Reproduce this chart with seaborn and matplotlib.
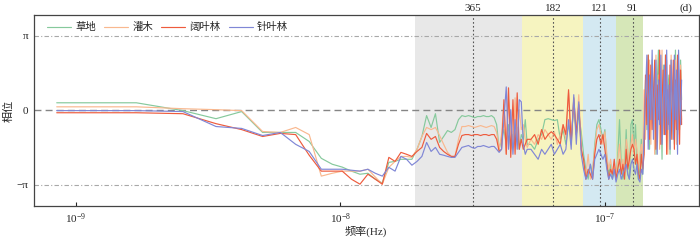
import numpy as np
import pandas as pd
import matplotlib
matplotlib.use("Agg")
import matplotlib.pyplot as plt
from matplotlib.ticker import NullLocator
import seaborn as sns

# harmonic index of the spectrum (full resolution below 60, every 2nd above)
harmonic = np.r_[np.arange(1, 61), np.arange(62, 231, 2)]
record_len = 1.18e9  # seconds, length of the series

# phase (rad) per land cover type
grass = [0.32, 0.32, -0.01, -0.35, -0.05, -0.93, -0.93, -0.93, -1.31, -2.02, -2.27, -2.39,
         -2.56, -2.69, -2.65, -2.90, -3.06, -2.19, -2.15, -2.06, -2.06, -2.06, -1.64, -1.10,
         -0.22, -0.72, -0.14, -1.35, -1.10, -0.85, -0.93, -0.81, -0.39, -0.22, -0.26, -0.22,
         -0.26, -0.31, -0.26, -0.26, -0.22, -0.26, -0.26, -0.22, -0.31, -0.60, -1.64,
         -1.22, -0.81, -1.43, -0.60, -1.64, -1.02, -1.43, -0.72, -1.64, -1.02, -1.22, -0.39, -1.43,
         -1.43, -1.64, -1.22, -1.02, -0.39, -0.35, -0.39, -0.43, -0.39, -1.22, -0.81, -1.43,
         -0.60, -1.22, 0.20, -1.02, -0.20, -0.90,
         -1.85, -2.48, -2.90, -2.27, -2.69, -1.43, -0.60, -0.39, -0.81, -1.22, -0.81, -2.06,
         -2.69, -2.27, -2.90, -2.48, -2.90, -1.85,
         -0.39, -2.27, -2.90, -2.48, -0.81, -2.69, -2.90, -0.60, -0.39, -1.64, -0.60, -2.27,
         -2.90, -2.48, -1.22, -2.69,
         -1.43, 1.28, -0.81, 2.33, -1.64, 0.45, 2.12, -0.39, 1.70, -1.85, 1.07, 2.54, -1.02,
         0.66, -2.06, 1.91, -0.60, 2.33, -1.22, 0.87, 1.49, -1.85, 2.12, -0.39, 1.28, -1.43,
         2.54, 0.24, -1.02, 1.70, -0.81, 2.12, 0.45]
shrub = [0.15, 0.15, 0.07, 0.03, -0.01, -0.89, -0.93, -0.72, -1.02, -2.77, -2.65, -2.56,
         -2.56, -2.56, -2.48, -2.81, -3.11, -2.40, -2.15, -1.94, -1.94, -1.98, -1.64, -1.10,
         -0.72, -0.81, -0.72, -1.06, -1.43, -1.77, -1.94, -1.94, -1.22, -0.68, -0.68, -0.64,
         -0.68, -0.72, -0.68, -0.64, -0.68, -0.72, -0.68, -0.64, -0.68, -0.93, -1.64,
         -1.02, 0.24, -1.85, 0.45, -0.39, -1.64, 0.53, -1.22, 0.03, -0.81, -0.60, -1.22, -1.56,
         -1.22, -1.43, -1.02, -1.22, -0.81, -1.02, -1.22, -0.90, -1.43, -1.02, -0.60, -1.22,
         0.74, -1.22, 0.45, -0.81, 0.66, -1.43,
         -2.27, -2.69, -1.85, -2.90, -2.48, -1.64, -0.81, -0.60, -1.02, -1.43, -0.90, -1.85,
         -2.48, -2.06, -2.69, -2.27, -2.90, -2.06,
         -1.43, -2.48, -2.06, -2.69, -1.22, -1.64, -2.27, -1.43, -1.02, -1.85, -1.22, -1.64,
         -2.48, -1.85, -1.43, -2.27,
         0.87, -1.22, 1.91, -0.60, 2.12, -1.43, 1.28, 0.24, -1.85, 2.33, -0.81, 1.49, -1.64,
         0.66, 2.54, -1.02, 1.70, -0.39, 2.12, -1.85, 0.87, -0.60, 2.33, -1.22, 1.07, 0.03,
         2.12, -1.43, 1.49, -0.81, 0.45, 1.91, -0.39]
broadleaf = [-0.10, -0.10, -0.14, -0.56, -0.81, -1.10, -0.97, -1.02, -1.89, -2.56, -2.56, -2.56,
             -2.90, -3.11, -2.69, -2.90, -3.11, -1.98, -2.15, -1.77, -1.85, -1.94, -1.73, -1.56,
             -0.97, -1.22, -1.10, -1.56, -1.73, -1.85, -1.94, -1.94, -1.43, -1.06, -1.02, -1.02,
             -1.06, -1.02, -1.02, -1.06, -1.02, -1.02, -1.06, -1.02, -1.02, -1.22, -1.73,
             -1.64, 0.45, -1.85, 0.95, -1.98, 0.45, -1.85, 0.74, -1.64, -1.22, -1.64, -1.43, -1.22,
             -1.22, -1.02, -1.43, -0.81, -1.22, -1.02, -0.90, -1.02, -1.22, -1.43, -0.60, -1.02,
             0.87, -1.43, 0.53, -1.02, 0.24, -1.64,
             -2.06, -2.90, -2.48, -2.69, -2.90, -1.85, -1.22, -1.02, -1.43, -1.02, -1.64, -2.27,
             -2.90, -2.48, -2.69, -2.06, -2.90, -2.48,
             -2.06, -2.69, -2.27, -2.90, -1.64, -2.48, -2.06, -1.64, -1.43, -1.64, -2.27, -1.85,
             -2.69, -2.90, -1.85, -2.48,
             -1.85, 1.49, -0.60, 2.33, -1.22, 1.91, -0.81, 0.66, 2.12, -1.64, 1.07, -0.39, 2.54,
             -1.43, 0.45, 1.70, -1.02, 2.33, -1.85, 0.87, -0.60, 1.91, -1.22, 0.24, 2.12, -1.64,
             1.28, -0.81, 2.33, 0.03, -1.43, 1.70, -0.60]
conifer = [-0.01, -0.01, -0.05, -0.68, -0.76, -1.06, -0.93, -1.43, -1.73, -2.48, -2.48, -2.48,
           -2.52, -2.56, -2.48, -2.65, -2.77, -2.40, -2.56, -1.94, -2.06, -2.31, -2.15, -1.94,
           -1.35, -1.73, -1.56, -1.85, -1.89, -1.94, -1.98, -1.98, -1.77, -1.56, -1.52, -1.48,
           -1.56, -1.60, -1.52, -1.52, -1.48, -1.52, -1.56, -1.52, -1.52, -1.64, -1.77,
           -1.64, -0.39, 0.99, -1.64, 0.03, -1.85, -0.39, -1.64, 0.45, 0.36, -1.43, -1.85, -1.64,
           -1.64, -1.85, -2.06, -1.64, -1.85, -1.64, -1.43, -1.85, -1.64, -1.43, -1.85, -1.64,
           -0.39, -1.64, 0.66, -1.43, 0.36, -1.85,
           -2.48, -2.90, -2.69, -2.27, -2.90, -2.06, -1.85, -1.64, -1.85, -2.06, -1.85, -2.48,
           -2.90, -2.69, -2.90, -2.48, -3.02, -2.69,
           -2.48, -2.90, -2.69, -2.48, -2.27, -2.69, -2.90, -2.27, -2.06, -2.48, -2.69, -2.27,
           -2.90, -3.02, -2.48, -2.69,
           -1.02, 0.66, 2.33, -1.64, 1.49, -0.39, 2.54, -1.22, 0.87, 2.12, -1.85, 1.28, -0.60,
           2.33, -1.43, 0.24, 1.91, -1.02, 2.54, -0.81, 1.07, -1.64, 2.12, 0.45, -1.22, 2.33,
           -0.39, 1.70, -1.85, 2.54, 0.66, -0.60, 1.28]

labels = ["草地", "灌木", "阔叶林", "针叶林"]
colors = ["#86c99c", "#f9b88f", "#ee5b3d", "#8087d6"]

# periods (days) marked on the top axis
periods = [365, 182, 121, 91]
# shaded period bands (Hz)
band_edges = [1.92e-8, 4.84e-8, 8.23e-8, 1.106e-7, 1.393e-7]
band_colors = ["#e8e8e8", "#f6f4c0", "#d4e9f2", "#d6e7b8"]

freq = harmonic / record_len
df = pd.concat([pd.DataFrame({"freq": freq, "phase": v, "type": lab})
                for v, lab in zip([grass, shrub, broadleaf, conifer], labels)])

sns.set_style("ticks")
plt.rcParams["font.family"] = ["Liberation Serif", "Noto Sans CJK SC"]
plt.rcParams["mathtext.fontset"] = "stix"

fig, ax = plt.subplots(figsize=(7, 2.41), dpi=100)
fig.subplots_adjust(left=0.048, right=0.998, top=0.938, bottom=0.146)

for lo, hi, c in zip(band_edges[:-1], band_edges[1:], band_colors):
    ax.axvspan(lo, hi, color=c, lw=0, zorder=0)

ax.axhline(0, color="#858585", ls=(0, (5, 3)), lw=1.0, zorder=1)
for y in (np.pi, -np.pi):
    ax.axhline(y, color="#a8a8a8", ls=(0, (4, 2, 1, 2)), lw=0.8, zorder=1)

pfreq = [1 / (d * 86400) for d in periods]
for f in pfreq:
    ax.axvline(f, color="#555555", ls=(0, (1.5, 2)), lw=0.8, zorder=1)

sns.lineplot(data=df, x="freq", y="phase", hue="type", hue_order=labels,
             palette=dict(zip(labels, colors)), estimator=None, sort=False,
             lw=0.85, ax=ax, zorder=2)

ax.set_xscale("log")
ax.set_xlim(6.93e-10, 2.26e-7)
ax.set_ylim(-np.pi * 1.28, np.pi * 1.28)
ax.set_xticks([1e-9, 1e-8, 1e-7])
ax.xaxis.set_minor_locator(NullLocator())
ax.set_yticks([-np.pi, 0, np.pi])
ax.set_yticklabels(["−π", "0", "π"])
ax.tick_params(axis="x", direction="in", top=True, length=3, labelsize=8, pad=4)
ax.tick_params(axis="y", length=0, labelsize=8, pad=4)
ax.set_xlabel("频率(Hz)", fontsize=8, labelpad=0)
ax.set_ylabel("相位", fontsize=8)
ax.yaxis.set_label_coords(-0.03, 0.5)
for s in ax.spines.values():
    s.set_color("#444444")
    s.set_linewidth(0.9)

top = ax.twiny()
top.set_xscale("log")
top.set_xlim(ax.get_xlim())
top.set_xticks(pfreq)
top.set_xticklabels([str(d) for d in periods])
top.xaxis.set_minor_locator(NullLocator())
top.tick_params(axis="x", length=0, labelsize=8, pad=1.5)
top.spines[:].set_visible(False)
ax.text(0.99, 1.012, "(d)", transform=ax.transAxes, ha="right", va="bottom", fontsize=8)

ax.legend(loc="upper left", bbox_to_anchor=(0.006, 1.01), ncol=4, frameon=False,
          fontsize=7.5, handlelength=2.3, handletextpad=0.4, columnspacing=0.8)

fig.savefig("out.png", dpi=100)
